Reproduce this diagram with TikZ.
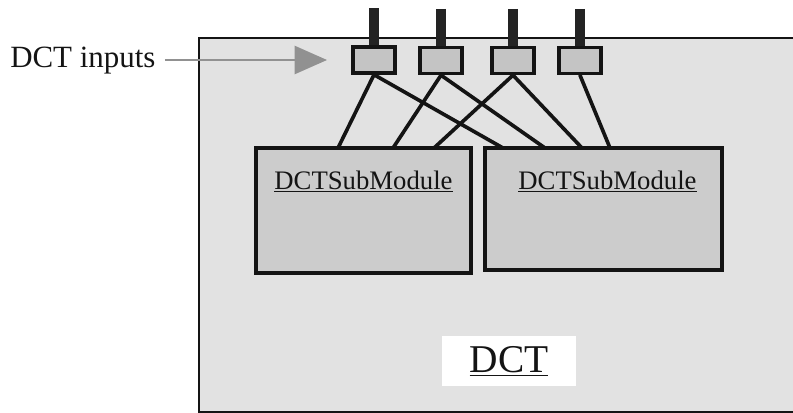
\documentclass[tikz,border=0pt]{standalone}
\usepackage{fontspec}
\setmainfont{Liberation Serif}
\usepackage{tikz}
\usetikzlibrary{arrows.meta,positioning,calc}
\definecolor{ink}{RGB}{20,20,20}
\definecolor{plate}{RGB}{226,226,226}
\definecolor{modfill}{RGB}{204,204,204}
\definecolor{portfill}{RGB}{196,196,196}
\definecolor{pin}{RGB}{35,35,35}
\definecolor{pointer}{RGB}{145,145,145}
\tikzset{
  every picture/.style={color=ink},
  outer/.style={draw=ink, fill=plate, line width=1.6pt, anchor=north west, inner sep=0pt},
  submod/.style={draw=ink, fill=modfill, line width=2.4pt, inner sep=0pt, minimum width=53.75mm, minimum height=31.25mm},
  port/.style={draw=ink, fill=portfill, line width=2.4pt, inner sep=0pt, minimum width=10.5mm, minimum height=6.5mm},
  wire/.style={line width=2.6pt, line cap=round},
  stub/.style={line width=7pt, color=pin},
  modname/.style={font=\fontsize{19}{22}\selectfont, inner sep=0pt, anchor=base},
  bigname/.style={font=\fontsize{28}{32}\selectfont, fill=white, inner xsep=7mm, inner ysep=2.5mm},
  callout/.style={font=\fontsize{22}{26}\selectfont, inner sep=0pt, anchor=base west},
  hint/.style={-{Triangle[length=23pt,width=20pt]}, line width=1.4pt, color=pointer},
}
\begin{document}
\begin{tikzpicture}[x=0.25mm, y=-0.25mm]
  % coordinates are in pixels of the 793x413 frame, y running down.
  % The DCT plate runs off the right edge, so the frame clips it.
  \clip (0,0) rectangle (793,413);
  \node[outer, minimum width=152mm, minimum height=93.5mm] (dct) at (198,37) {};
  \node[bigname] (dctname) at (509,361) {\underline{DCT}};
  % the two sub-modules
  \node[submod] (subA) at (363.5,210.5) {};
  \node[submod, minimum width=59.25mm, minimum height=30.5mm] (subB) at (603.5,209) {};
  \node[modname] (subAname) at (363.5,189) {\underline{DCTSubModule}};
  \node[modname] (subBname) at (607.5,189) {\underline{DCTSubModule}};
  % input ports with their pins through the top edge
  \node[port] (in1) at (374,60) {};
  \node[port] (in2) at (441,60.5) {};
  \node[port] (in3) at (513,60.5) {};
  \node[port] (in4) at (580,60.5) {};
  \foreach \p in {in1,in2,in3,in4} {
    \path (\p.north) ++(0,-37) coordinate (pin-\p);
    \draw[stub] (pin-\p) -- (\p.north);
  }
  % crossing wires, port -> sub-module
  \coordinate (a1) at (338,148); \coordinate (a2) at (393,148); \coordinate (a3) at (434,148);
  \coordinate (b1) at (503,148); \coordinate (b2) at (545,148); \coordinate (b3) at (582,148); \coordinate (b4) at (610,148);
  \draw[wire] (in1.south) -- (a1); \draw[wire] (in1.south) -- (b1);
  \draw[wire] (in2.south) -- (a2); \draw[wire] (in2.south) -- (b2);
  \draw[wire] (in3.south) -- (a3); \draw[wire] (in3.south) -- (b3);
  \draw[wire] (in4.south) -- (b4);
  % callout on the left
  \node[callout] (inputs) at (10,68) {DCT inputs};
  \coordinate (tip) at (327,60);
  \draw[hint] (inputs.east |- tip) ++(9,0) coordinate (tail) (tail) -- (tip);
\end{tikzpicture}
\end{document}
